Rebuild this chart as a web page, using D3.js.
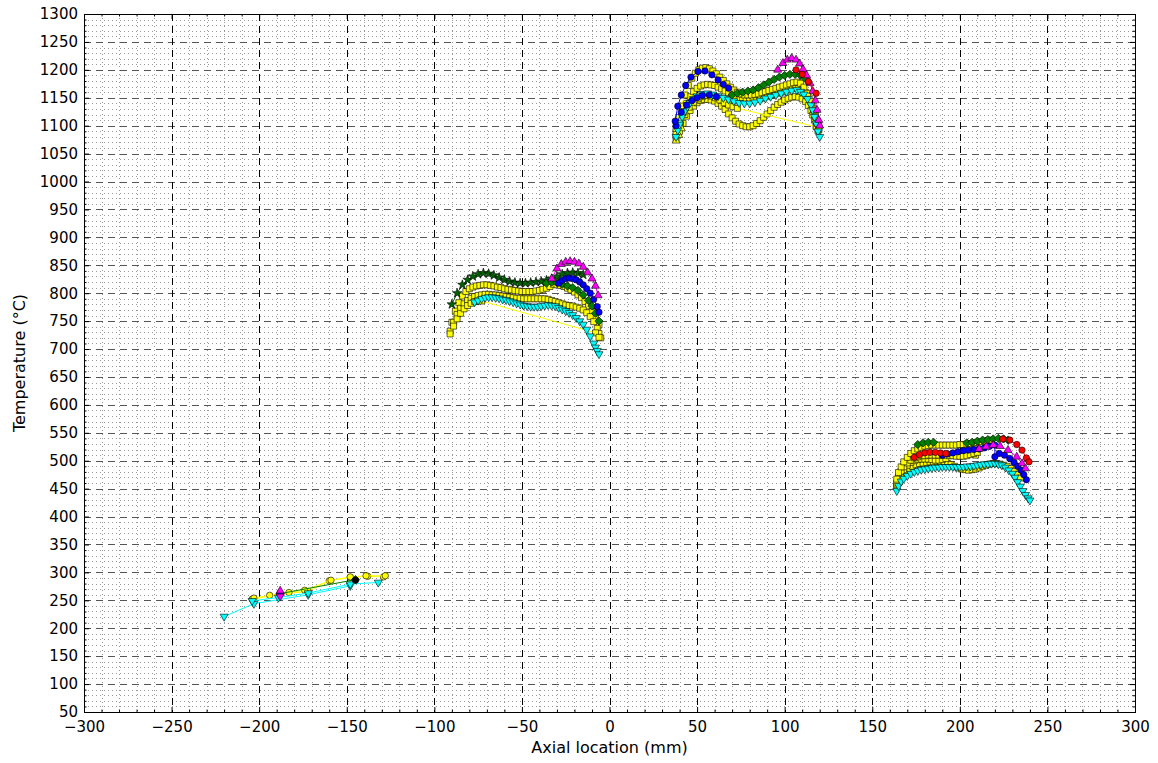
<!DOCTYPE html>
<html>
<head>
<meta charset="utf-8">
<script src="https://cdn.jsdelivr.net/npm/d3@7"></script>
<style>
  body { margin: 0; background: #fff; }
  svg { display: block; }
  text { font-family: "DejaVu Sans", sans-serif; }
</style>
</head>
<body>
<svg id="chart" width="1158" height="763"></svg>
<script>
// ---------------- axis ticks ----------------
const xTicks = [-300, -250, -200, -150, -100, -50, 0, 50, 100, 150, 200, 250, 300];
const yTicks = [50, 100, 150, 200, 250, 300, 350, 400, 450, 500, 550, 600, 650, 700, 750, 800,
                850, 900, 950, 1000, 1050, 1100, 1150, 1200, 1250, 1300];

// ---------------- measured profiles: [axial location (mm), temperature (°C)] ----------------
// zone 1 (-220 .. -128 mm)
const cyanA1 = [[-220,221],[-203,244],[-172,260],[-148,276]];
const cyanA2 = [[-204,249],[-189,255],[-172,263],[-148,279],[-132,282]];
const yellowA1 = [[-203,254],[-194,259],[-183,264],[-174,268],[-159,286],[-148,292],[-139,294],[-128,294]];
const yellowA2 = [[-204,252],[-188,261],[-172,266],[-160,285],[-148,291],[-138,293],[-129,292]];
const greenA = [[-188,262],[-145,287]];
const magentaUpA = [[-188,267]];
const magentaDownA = [[-188,257]];
const blueA = [[-188,262]];
const blackA = [[-145,286]];

// zone 2 (-91 .. -5 mm)
const squaresB1 = [[-90,748],[-88,768],[-86,783],[-84,795],[-82,803],[-80,808],[-78,811],[-76,813],[-74,814],[-72,815],
  [-70,815],[-68,814],[-66,813],[-64,811],[-62,810],[-60,808],[-58,807],[-56,806],[-54,805],[-52,804],[-50,803],
  [-48,803],[-46,803],[-44,803],[-42,804],[-40,805],[-38,807],[-36,809],[-34,812],[-32,816],[-30,815],[-28,814],
  [-26,812],[-24,809],[-22,806],[-20,802],[-18,797],[-16,792],[-14,785],[-12,777],[-10,767],[-8,756],[-6,743]];
const squaresB2 = [[-91,732],[-89,748],[-87,762],[-85,773],[-83,781],[-81,787],[-79,791],[-77,794],[-75,796],[-73,797],
  [-71,798],[-69,798],[-67,797],[-65,797],[-63,796],[-61,795],[-59,794],[-57,793],[-55,792],[-53,791],[-51,791],
  [-49,790],[-47,790],[-45,790],[-43,790],[-41,790],[-39,790],[-37,790],[-35,789],[-33,787],[-31,785],[-29,783],
  [-27,781],[-25,779],[-23,778],[-21,777],[-19,775],[-17,773],[-15,770],[-13,765],[-11,758],[-9,749],[-7,737],
  [-6,728],[-5,720]];
const squaresB3 = [[-91,727],[-89,741],[-87,754],[-85,764],[-83,772],[-81,778],[-79,782],[-77,785],[-75,786],[-73,786],
  [-8,729],[-6,721]];
const cyanB = [[-77,784],[-75,787],[-73,790],[-71,792],[-69,793],[-67,793],[-65,792],[-63,791],[-61,789],[-59,788],
  [-57,786],[-55,784],[-53,782],[-51,780],[-49,778],[-47,777],[-45,776],[-43,776],[-41,776],[-39,777],[-37,778],
  [-35,779],[-33,778],[-31,777],[-29,774],[-27,771],[-25,768],[-23,765],[-21,761],[-19,756],[-17,750],[-15,744],
  [-13,735],[-11,723],[-9,710],[-8,703],[-7,697],[-6,691]];
const starsB = [[-90,780],[-87,800],[-84,815],[-81,824],[-78,830],[-75,834],[-72,836],[-69,835],[-66,832],[-63,828],
  [-60,824],[-57,821],[-54,819],[-51,818],[-48,818],[-45,819],[-42,820],[-39,821],[-36,823],[-33,826],[-30,830],
  [-27,834],[-24,836],[-21,837],[-18,836],[-15,833]];
const greenB = [[-36,818],[-33,820],[-30,819],[-27,816],[-24,813],[-21,810],[-18,805],[-15,797],[-12,787],[-10,777],
  [-8,764],[-6,750]];
const blueB = [[-29,818],[-27,823],[-25,826],[-23,827],[-21,826],[-19,824],[-17,820],[-15,815],[-13,808],[-11,800],
  [-9,789],[-7,776],[-6,766]];
const magentaB = [[-33,826],[-30,844],[-27.5,852],[-25,856],[-22.5,857],[-20,856],[-17.5,853],[-15,847],[-12.5,837],
  [-10,826],[-8,813],[-6.5,796]];

// zone 3 (38 .. 120 mm)
const squaresC1 = [[38,1095],[39.5,1115],[41,1135],[43,1155],[45,1172],[47,1185],[49,1194],[51,1200],[53,1203],[55,1204],
  [57,1202],[59,1198],[61,1193],[63,1187],[65,1181],[67,1175],[69,1169],[71,1164],[73,1160],[75,1157],[77,1155],
  [79,1155],[81,1155],[83,1156],[85,1157],[87,1159],[89,1161],[91,1163],[93,1165],[95,1167],[97,1169],[99,1171],
  [101,1173],[103,1175],[105,1177],[107,1178],[109,1176],[111,1169],[113,1158],[115,1143],[116.5,1128],[117.5,1116],
  [118.5,1104],[119.5,1095]];
const squaresC2 = [[38,1088],[40,1106],[42,1124],[44,1140],[46,1152],[48,1161],[50,1167],[52,1171],[54,1173],[56,1174],
  [58,1173],[60,1172],[62,1169],[64,1166],[66,1162],[68,1158],[70,1154],[72,1151],[74,1148],[76,1146],[78,1145],
  [80,1145],[82,1146],[84,1147],[86,1148],[88,1150],[90,1152],[92,1154],[94,1156],[96,1158],[98,1160],[100,1162],
  [102,1164],[104,1166],[106,1167],[108,1167],[110,1165],[112,1159],[114,1150],[115.5,1140],[116.5,1130],
  [117.5,1119],[118.5,1108],[119.5,1099]];
const squaresC3 = [[38,1076],[40,1090],[42,1104],[44,1117],[46,1127],[48,1135],[50,1141],[52,1145],[54,1147],[56,1147],
  [58,1146],[60,1144],[62,1140],[64,1135],[66,1129],[68,1121],[70,1114],[72,1108],[74,1103],[76,1100],[78,1098],
  [80,1098],[82,1100],[84,1104],[86,1109],[88,1115],[90,1121],[92,1127],[94,1133],[96,1138],[98,1142],[100,1146],
  [102,1149],[104,1151],[106,1152],[108,1151],[110,1148],[112,1143],[113.5,1136],[115,1127],[116,1119],[117,1110],
  [118,1100],[119,1091]];
const squaresC4 = [[38,1082],[40.5,1102],[43,1120],[45.5,1133],[48,1142],[50.5,1148],[53,1152],[55.5,1154],[58,1153],
  [60.5,1150],[63,1146],[65.5,1141],[68,1137],[70.5,1134],[73,1131],[118,1098],[119.5,1093]];
const yellowTriC = [[38,1073],[39.5,1083],[41,1095]];
const cyanC = [[38,1080],[39,1092],[40,1102],[41.5,1116],[43,1126],[44.5,1134],[46,1141],[48,1148],[50,1153],[53,1157],
  [56,1158],[59,1156],[62,1153],[65,1150],[68,1147],[71,1144],[74,1141],[77,1140],[80,1140],[83,1142],[86,1145],
  [89,1149],[92,1152],[95,1155],[98,1158],[101,1161],[104,1163],[107,1164],[109,1161],[111,1156],[113,1148],
  [115,1137],[116,1128],[117,1116],[118,1104],[119,1090],[120,1080]];
const blueC1 = [[37.5,1108],[39,1135],[41,1155],[43.5,1172],[46.5,1187],[50.5,1197],[54.5,1198],[58.5,1191],[62,1182],
  [65,1174],[68,1167]];
const blueC2 = [[38,1100],[41,1124],[44,1137],[47,1145],[50,1150],[53,1154],[57,1155],[61,1152]];
const greenC = [[70,1155],[73,1158],[76,1160],[79,1162],[82,1164],[85,1168],[88,1173],[91,1178],[94,1183],[97,1187],
  [100,1190],[103,1192],[106,1192],[109,1190],[111.5,1185]];
const magentaC = [[96,1200],[99,1212],[101.5,1218],[104,1221],[106.5,1218],[108.5,1211],[110.5,1201],[112.5,1190],
  [114.5,1176],[116,1162],[117.5,1145],[118.5,1128],[119.5,1110],[120,1100]];
const redC = [[106.5,1200],[110,1192],[113.5,1179],[118,1158]];

// zone 4 (164 .. 240 mm)
const squaresD1 = [[164,467],[165,479],[166.5,489],[168,498],[170,506],[172,513],[174,518],[176,521],[178,524],[180,526],
  [182,527],[184,528],[186,528],[188,528],[190,528],[192,528],[194,528],[196,528],[198,528],[200,529],[202,529],
  [204,530],[206,531],[208,532],[210,533],[212,534],[214,535],[216,536],[218,537]];
const squaresD2 = [[164,460],[165,471],[166.5,481],[168,489],[170,496],[172,501],[174,505],[176,507],[178,509],[180,509],
  [182,510],[184,510],[186,510],[188,510],[190,510],[192,510],[194,509],[196,509],[198,508],[200,508],[202,508],
  [204,509],[206,511],[208,513],[210,515]];
const squaresD3 = [[164,453],[165.5,463],[167,472],[169,480],[171,486],[173,490],[175,493],[177,495],[179,496],[181,497],
  [183,498],[185,498],[187,498],[189,497],[191,496],[193,495],[195,493],[197,490],[199,487],[201,485],[203,484],
  [205,483],[207,484],[209,485],[211,487],[213,490],[215,492],[217,494],[219,495],[221,495],[223,494],[225,492],
  [227,490],[229,486],[231,481],[233,475],[234.5,469]];
const squaresD4 = [[164,457],[166,472],[168,484],[170,492],[172,497],[174,500],[176,502],[178,503],[180,503],[182,503],
  [184,502],[186,501],[188,501],[190,502],[192,504],[209,510]];
const cyanD = [[164,446],[165,455],[166.5,463],[168,468],[170,473],[172,477],[174,480],[176,482],[178,484],[180,485],
  [182,486],[184,487],[186,488],[188,488],[190,489],[192,489],[194,489],[196,489],[198,489],[200,489],[202,489],
  [204,490],[206,490],[208,491],[210,492],[212,493],[214,494],[216,494],[218,495],[220,495],[222,494],[224,492],
  [226,488],[228,483],[230,477],[231.5,470],[233,462],[234.5,454],[236,446],[237.5,439],[239,433],[240,429]];
const greenD1 = [[176,529],[179,532],[182,533],[185,533]];
const greenD2 = [[204,532],[207,533],[210,535],[213,537],[216,538],[219,539],[222,540],[225,539],[227.5,537]];
const blueD = [[190,510],[193,512],[196,514],[199,516],[202,518],[205,519],[208,520],[211,521],[214,523],[217,526],
  [220,528],[220,507],[222.5,513],[225.5,510],[228.5,504],[231,497],[233,490],[235,483],[236.5,475],[238,466]];
const magentaD = [[211,521],[215,525],[219,528],[223,526],[227.5,519],[232.5,507],[235.5,495],[237.5,486]];
const redD1 = [[174,506],[177,511],[180,514],[183,515],[186,515],[189,514],[192,513]];
const redD2 = [[224.5,539],[228.5,537],[232.5,529],[235.5,519],[238,505],[239.5,498]];

// ---------------- drawing styles per profile ----------------
const YELLOW = "#ffff00", CYAN = "#00ffff", GREEN = "#008000", DKGREEN = "#006400",
      BLUE = "#0000ff", MAGENTA = "#ff00ff", RED = "#ff0000", BLACK = "#000000";

const layers = [
  { pts: squaresB1, color: YELLOW, marker: "s" },
  { pts: squaresB2, color: YELLOW, marker: "s" },
  { pts: squaresB3, color: YELLOW, marker: "s" },
  { pts: squaresC3, color: YELLOW, marker: "s" },
  { pts: squaresC4, color: YELLOW, marker: "s" },
  { pts: squaresC2, color: YELLOW, marker: "s" },
  { pts: squaresC1, color: YELLOW, marker: "s" },
  { pts: yellowTriC, color: YELLOW, marker: "^" },
  { pts: squaresD3, color: YELLOW, marker: "s" },
  { pts: squaresD4, color: YELLOW, marker: "s" },
  { pts: squaresD2, color: YELLOW, marker: "s" },
  { pts: squaresD1, color: YELLOW, marker: "s" },
  { pts: yellowA2, color: YELLOW, marker: "o" },
  { pts: yellowA1, color: YELLOW, marker: "o" },
  { pts: cyanA1, color: CYAN, marker: "v" },
  { pts: cyanA2, color: CYAN, marker: "v" },
  { pts: cyanB, color: CYAN, marker: "v" },
  { pts: cyanC, color: CYAN, marker: "v" },
  { pts: cyanD, color: CYAN, marker: "v" },
  { pts: starsB, color: DKGREEN, marker: "*" },
  { pts: greenA, color: GREEN, marker: "D" },
  { pts: greenB, color: GREEN, marker: "D" },
  { pts: greenC, color: GREEN, marker: "D" },
  { pts: greenD1, color: GREEN, marker: "D" },
  { pts: greenD2, color: GREEN, marker: "D" },
  { pts: blueA, color: BLUE, marker: "o" },
  { pts: blueB, color: BLUE, marker: "o" },
  { pts: blueC2, color: BLUE, marker: "o" },
  { pts: blueC1, color: BLUE, marker: "o" },
  { pts: blueD, color: BLUE, marker: "o" },
  { pts: magentaDownA, color: MAGENTA, marker: "v" },
  { pts: magentaUpA, color: MAGENTA, marker: "^" },
  { pts: magentaB, color: MAGENTA, marker: "^" },
  { pts: magentaC, color: MAGENTA, marker: "^" },
  { pts: magentaD, color: MAGENTA, marker: "^" },
  { pts: redC, color: RED, marker: "o" },
  { pts: redD1, color: RED, marker: "o" },
  { pts: redD2, color: RED, marker: "o" },
  { pts: blackA, color: BLACK, marker: "o" }
];

// ---------------- layout ----------------
const svg = d3.select("#chart");
const plot = { left: 84, right: 1135, top: 14, bottom: 712 };
const x = d3.scaleLinear().domain([-300, 300]).range([plot.left, plot.right]);
const y = d3.scaleLinear().domain([50, 1300]).range([plot.bottom, plot.top]);
const crisp = v => Math.round(v) + 0.5;

svg.append("rect").attr("width", 1158).attr("height", 763).attr("fill", "#fff");

const xMinor = d3.range(-300, 301, 10).filter(v => v % 50 !== 0);
const yMinor = d3.range(50, 1301, 10).filter(v => v % 50 !== 0);

// grid: dotted minor, dashed major
const grid = svg.append("g");
grid.selectAll(".gxm").data(xMinor).join("line")
  .attr("x1", d => crisp(x(d))).attr("x2", d => crisp(x(d)))
  .attr("y1", plot.top).attr("y2", plot.bottom)
  .attr("stroke", "#999").attr("stroke-width", 1).attr("stroke-dasharray", "1,3");
grid.selectAll(".gym").data(yMinor).join("line")
  .attr("y1", d => crisp(y(d))).attr("y2", d => crisp(y(d)))
  .attr("x1", plot.left).attr("x2", plot.right)
  .attr("stroke", "#999").attr("stroke-width", 1).attr("stroke-dasharray", "1,3");
grid.selectAll(".gyM").data(yTicks).join("line")
  .attr("y1", d => crisp(y(d))).attr("y2", d => crisp(y(d)))
  .attr("x1", plot.left).attr("x2", plot.right)
  .attr("stroke", "#555").attr("stroke-width", 1).attr("stroke-dasharray", "7,5");
grid.selectAll(".gxM").data(xTicks).join("line")
  .attr("x1", d => crisp(x(d))).attr("x2", d => crisp(x(d)))
  .attr("y1", plot.top).attr("y2", plot.bottom)
  .attr("stroke", "#000").attr("stroke-width", 1).attr("stroke-dasharray", "7,5");

// ---------------- markers ----------------
function markerPath(m) {
  switch (m) {
    case "s": return d3.symbol(d3.symbolSquare, 36)();
    case "o": return d3.symbol(d3.symbolCircle, 32)();
    case "^": return d3.symbol(d3.symbolTriangle, 28)();
    case "v": return d3.symbol(d3.symbolTriangle, 28)();
    case "D": return d3.symbol(d3.symbolSquare, 34)();
    case "*": return d3.symbol(d3.symbolStar, 28)();
  }
}
function markerRotation(m) {
  if (m === "v") return 180;
  if (m === "D") return 45;
  return 0;
}

const line = d3.line().x(d => x(d[0])).y(d => y(d[1]));
const series = svg.append("g");
layers.forEach(layer => {
  const g = series.append("g");
  if (layer.pts.length > 1) {
    g.append("path").attr("d", line(layer.pts))
      .attr("fill", "none").attr("stroke", layer.color).attr("stroke-width", 1);
  }
  const path = markerPath(layer.marker);
  const rot = markerRotation(layer.marker);
  g.selectAll("path.mk").data(layer.pts).join("path")
    .attr("class", "mk")
    .attr("d", path)
    .attr("transform", d => `translate(${x(d[0])},${y(d[1])}) rotate(${rot})`)
    .attr("fill", layer.color)
    .attr("stroke", "#000").attr("stroke-width", 0.6);
});

// ---------------- axes (inward ticks on all sides) ----------------
const fmt = d3.format("d");
function styleAxis(g) {
  g.select(".domain").remove();
  g.selectAll("line").attr("stroke", "#000").attr("stroke-width", 1);
  g.selectAll("text").attr("fill", "#000").attr("font-size", "15px")
    .attr("font-family", '"DejaVu Sans", sans-serif');
}
svg.append("g").attr("transform", `translate(0,${plot.bottom})`)
  .call(d3.axisBottom(x).tickValues(xTicks).tickFormat(fmt).tickSize(-5).tickPadding(9)).call(styleAxis);
svg.append("g").attr("transform", `translate(0,${plot.bottom})`)
  .call(d3.axisBottom(x).tickValues(xMinor).tickFormat("").tickSize(-2.5)).call(styleAxis);
svg.append("g").attr("transform", `translate(0,${plot.top})`)
  .call(d3.axisTop(x).tickValues(xTicks).tickFormat("").tickSize(-5)).call(styleAxis);
svg.append("g").attr("transform", `translate(0,${plot.top})`)
  .call(d3.axisTop(x).tickValues(xMinor).tickFormat("").tickSize(-2.5)).call(styleAxis);
svg.append("g").attr("transform", `translate(${plot.left},0)`)
  .call(d3.axisLeft(y).tickValues(yTicks).tickFormat(fmt).tickSize(-5).tickPadding(6)).call(styleAxis);
svg.append("g").attr("transform", `translate(${plot.left},0)`)
  .call(d3.axisLeft(y).tickValues(yMinor).tickFormat("").tickSize(-2.5)).call(styleAxis);
svg.append("g").attr("transform", `translate(${plot.right},0)`)
  .call(d3.axisRight(y).tickValues(yTicks).tickFormat("").tickSize(-5)).call(styleAxis);
svg.append("g").attr("transform", `translate(${plot.right},0)`)
  .call(d3.axisRight(y).tickValues(yMinor).tickFormat("").tickSize(-2.5)).call(styleAxis);

// frame
svg.append("rect")
  .attr("x", plot.left + 0.5).attr("y", plot.top + 0.5)
  .attr("width", plot.right - plot.left).attr("height", plot.bottom - plot.top)
  .attr("fill", "none").attr("stroke", "#000").attr("stroke-width", 1);

// axis titles
svg.append("text").attr("x", (plot.left + plot.right) / 2).attr("y", 753)
  .attr("text-anchor", "middle").attr("font-size", "16px").text("Axial location (mm)");
svg.append("text").attr("transform", `translate(25,${(plot.top + plot.bottom) / 2}) rotate(-90)`)
  .attr("text-anchor", "middle").attr("font-size", "16px").text("Temperature (°C)");
</script>
</body>
</html>
